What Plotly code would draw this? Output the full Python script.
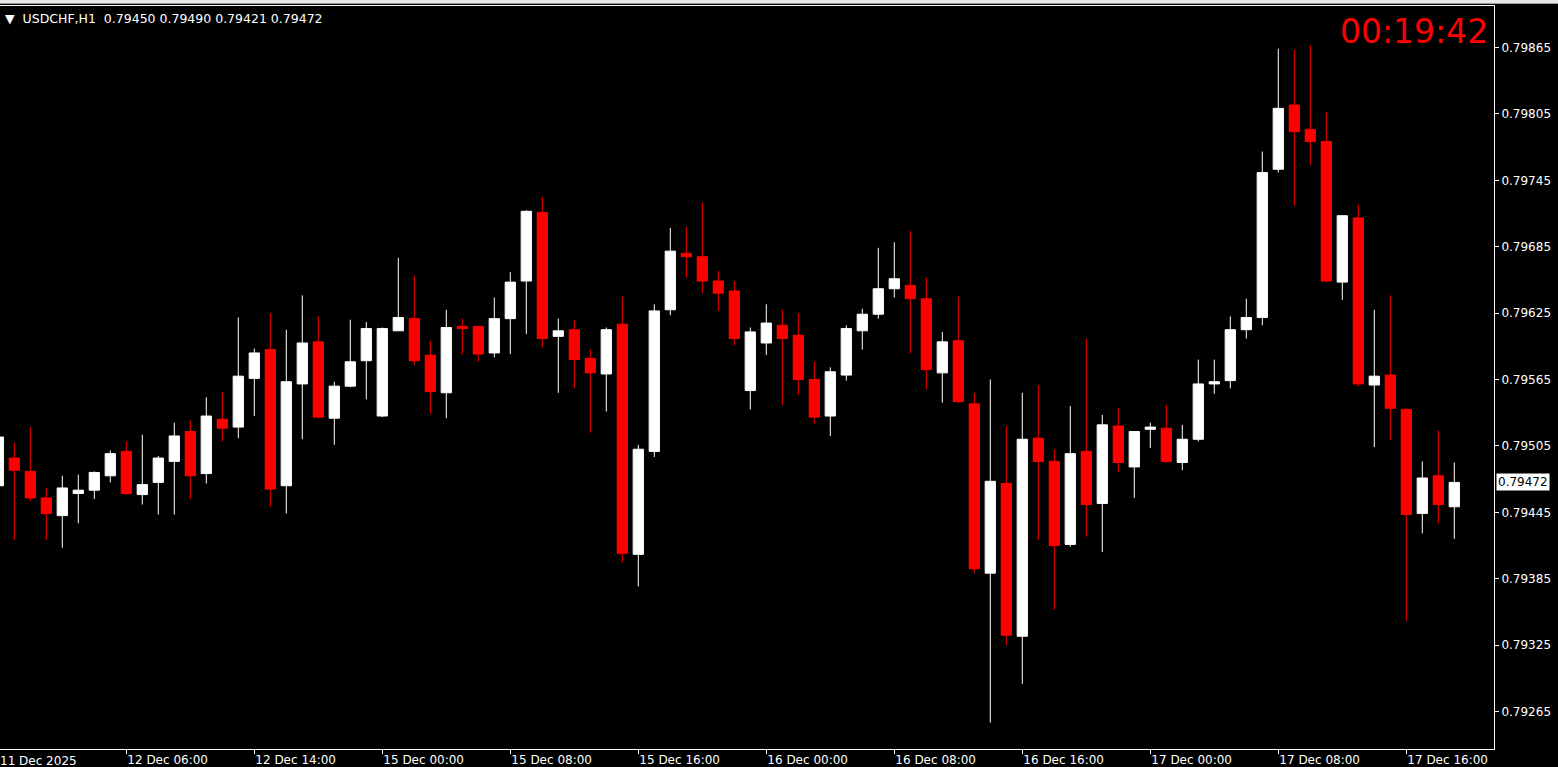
import plotly.graph_objects as go

# ---- data (USDCHF H1) ----
opens = [0.79469, 0.79494, 0.79482, 0.79458, 0.79442, 0.79462, 0.79465, 0.79478, 0.79500, 0.79461,
         0.79472, 0.79491, 0.79518, 0.79480, 0.79529, 0.79522, 0.79566, 0.79592, 0.79469, 0.79561,
         0.79599, 0.79530, 0.79559, 0.79582, 0.79532, 0.79609, 0.79620, 0.79587, 0.79553, 0.79613,
         0.79613, 0.79589, 0.79620, 0.79654, 0.79716, 0.79604, 0.79610, 0.79584, 0.79570, 0.79615,
         0.79407, 0.79500, 0.79628, 0.79679, 0.79676, 0.79654, 0.79645, 0.79555, 0.79598, 0.79614,
         0.79605, 0.79565, 0.79532, 0.79569, 0.79609, 0.79624, 0.79647, 0.79650, 0.79638, 0.79571,
         0.79600, 0.79543, 0.79390, 0.79471, 0.79333, 0.79512, 0.79491, 0.79416, 0.79500, 0.79453,
         0.79523, 0.79486, 0.79520, 0.79521, 0.79490, 0.79511, 0.79561, 0.79564, 0.79610, 0.79621,
         0.79755, 0.79813, 0.79791, 0.79780, 0.79653, 0.79711, 0.79560, 0.79569, 0.79538, 0.79444,
         0.79478, 0.79450]
highs = [0.79519, 0.79508, 0.79522, 0.79467, 0.79478, 0.79479, 0.79482, 0.79501, 0.79509, 0.79515,
         0.79496, 0.79526, 0.79528, 0.79549, 0.79554, 0.79621, 0.79593, 0.79625, 0.79610, 0.79641,
         0.79622, 0.79563, 0.79619, 0.79617, 0.79612, 0.79675, 0.79659, 0.79600, 0.79628, 0.79620,
         0.79613, 0.79639, 0.79662, 0.79718, 0.79730, 0.79620, 0.79619, 0.79592, 0.79612, 0.79640,
         0.79506, 0.79633, 0.79702, 0.79703, 0.79725, 0.79663, 0.79654, 0.79612, 0.79633, 0.79628,
         0.79625, 0.79581, 0.79576, 0.79614, 0.79629, 0.79684, 0.79689, 0.79699, 0.79657, 0.79608,
         0.79640, 0.79553, 0.79565, 0.79523, 0.79553, 0.79560, 0.79502, 0.79541, 0.79602, 0.79533,
         0.79539, 0.79518, 0.79526, 0.79542, 0.79524, 0.79583, 0.79583, 0.79622, 0.79638, 0.79771,
         0.79864, 0.79863, 0.79867, 0.79807, 0.79713, 0.79723, 0.79628, 0.79641, 0.79539, 0.79491,
         0.79519, 0.79490]
lows = [0.79463, 0.79420, 0.79455, 0.79420, 0.79413, 0.79435, 0.79457, 0.79472, 0.79461, 0.79452,
        0.79443, 0.79443, 0.79457, 0.79471, 0.79509, 0.79512, 0.79532, 0.79450, 0.79444, 0.79511,
        0.79530, 0.79506, 0.79558, 0.79547, 0.79531, 0.79609, 0.79578, 0.79534, 0.79530, 0.79588,
        0.79581, 0.79585, 0.79588, 0.79606, 0.79594, 0.79553, 0.79557, 0.79517, 0.79536, 0.79400,
        0.79378, 0.79495, 0.79623, 0.79657, 0.79643, 0.79627, 0.79596, 0.79538, 0.79587, 0.79542,
        0.79551, 0.79525, 0.79514, 0.79564, 0.79592, 0.79620, 0.79639, 0.79589, 0.79556, 0.79544,
        0.79544, 0.79390, 0.79255, 0.79325, 0.79290, 0.79420, 0.79357, 0.79414, 0.79423, 0.79409,
        0.79481, 0.79458, 0.79503, 0.79490, 0.79483, 0.79509, 0.79552, 0.79557, 0.79602, 0.79614,
        0.79752, 0.79722, 0.79759, 0.79653, 0.79637, 0.79559, 0.79504, 0.79510, 0.79347, 0.79426,
        0.79435, 0.79421]
closes = [0.79513, 0.79483, 0.79458, 0.79444, 0.79467, 0.79465, 0.79481, 0.79498, 0.79462, 0.79470,
          0.79494, 0.79514, 0.79478, 0.79532, 0.79521, 0.79568, 0.79589, 0.79466, 0.79563, 0.79598,
          0.79531, 0.79559, 0.79581, 0.79611, 0.79611, 0.79621, 0.79582, 0.79554, 0.79612, 0.79611,
          0.79588, 0.79620, 0.79653, 0.79717, 0.79602, 0.79609, 0.79583, 0.79571, 0.79610, 0.79408,
          0.79502, 0.79627, 0.79681, 0.79676, 0.79654, 0.79643, 0.79602, 0.79608, 0.79616, 0.79602,
          0.79565, 0.79531, 0.79572, 0.79611, 0.79624, 0.79647, 0.79656, 0.79638, 0.79574, 0.79599,
          0.79545, 0.79394, 0.79473, 0.79334, 0.79511, 0.79491, 0.79415, 0.79498, 0.79452, 0.79524,
          0.79490, 0.79518, 0.79522, 0.79491, 0.79511, 0.79561, 0.79563, 0.79610, 0.79621, 0.79752,
          0.79810, 0.79789, 0.79780, 0.79654, 0.79713, 0.79561, 0.79568, 0.79539, 0.79443, 0.79476,
          0.79452, 0.79472]

bar_index = list(range(len(opens)))
time_tick_index = [0, 8, 16, 24, 32, 40, 48, 56, 64, 72, 80, 88]
time_tick_labels = ["11 Dec 2025", "12 Dec 06:00", "12 Dec 14:00", "15 Dec 00:00", "15 Dec 08:00",
                    "15 Dec 16:00", "16 Dec 00:00", "16 Dec 08:00", "16 Dec 16:00", "17 Dec 00:00",
                    "17 Dec 08:00", "17 Dec 16:00"]
price_ticks = [0.79265, 0.79325, 0.79385, 0.79445, 0.79505, 0.79565, 0.79625, 0.79685, 0.79745, 0.79805, 0.79865]
symbol = "USDCHF,H1"
timer_text = "00:19:42"

FONT = "DejaVu Sans"
W, H = 1558, 767
ML, MR, MT, MB = 0, 64, 6, 18
PW, PH = W - ML - MR, H - MT - MB
BAR_PX = 16.0      # pixel pitch of one bar
BAR0_PX = -1.7     # pixel centre of bar 0

fig = go.Figure()
fig.add_trace(go.Candlestick(
    x=bar_index, open=opens, high=highs, low=lows, close=closes,
    increasing=dict(line=dict(color="#ffffff", width=1), fillcolor="#ffffff"),
    decreasing=dict(line=dict(color="#ff0000", width=1), fillcolor="#ff0000"),
    whiskerwidth=0, showlegend=False, hoverinfo="x+y",
))

x0 = (0 - BAR0_PX) / BAR_PX
x1 = (PW - BAR0_PX) / BAR_PX
ytop = 0.79865 + (47.5 - MT) * 0.0006 / 66.4
ybot = 0.79865 - (MT + PH - 47.5) * 0.0006 / 66.4

in_range = [(i, t) for i, t in zip(time_tick_index, time_tick_labels) if i >= x0]
out_range = [(i, t) for i, t in zip(time_tick_index, time_tick_labels) if i < x0]

fig.update_layout(
    width=W, height=H,
    margin=dict(l=ML, r=MR, t=MT, b=MB, pad=0, autoexpand=False),
    paper_bgcolor="#000000", plot_bgcolor="#000000",
    boxgap=0.36, boxgroupgap=0,
    font=dict(family=FONT, size=12, color="#ffffff"),
    xaxis=dict(
        range=[x0, x1], rangeslider=dict(visible=False),
        showgrid=False, zeroline=False,
        showline=True, linecolor="#ffffff", linewidth=1, mirror=True,
        ticks="outside", ticklen=4, tickcolor="#ffffff", tickwidth=1,
        tickmode="array", tickvals=[i for i, _ in in_range], ticktext=[t for _, t in in_range],
        ticklabelposition="outside right",
        tickfont=dict(family=FONT, size=12, color="#ffffff"),
        fixedrange=True, automargin=False,
    ),
    yaxis=dict(
        range=[ybot, ytop], side="right",
        showgrid=False, zeroline=False,
        showline=True, linecolor="#ffffff", linewidth=1,
        ticks="outside", ticklen=4, tickcolor="#ffffff", tickwidth=1,
        tickmode="array", tickvals=price_ticks, ticktext=[f"{v:.5f}" for v in price_ticks],
        tickfont=dict(family=FONT, size=12, color="#ffffff"),
        fixedrange=True, automargin=False,
    ),
)

# time label whose bar lies just left of the plot edge
for i, t in out_range:
    fig.add_annotation(x=(BAR0_PX + BAR_PX * i) / PW, xref="paper", y=-(761 - (MT + PH)) / PH, yref="paper",
                       text=t, showarrow=False, xanchor="left", yanchor="middle",
                       font=dict(family=FONT, size=12, color="#ffffff"))

# header
header = "\u25BC\u00a0\u00a0" + symbol + "\u00a0\u00a0" + "\u00a0".join(
    f"{v:.5f}" for v in (opens[-1], highs[-1], lows[-1], closes[-1]))
fig.add_annotation(x=3 / PW, xref="paper", y=1 - (18 - MT) / PH, yref="paper",
                   text=header, showarrow=False, xanchor="left", yanchor="middle",
                   font=dict(family=FONT, size=12.5, color="#ffffff"))

# countdown timer
fig.add_annotation(x=1490 / PW, xref="paper", y=1 - (31 - MT) / PH, yref="paper",
                   text=timer_text, showarrow=False, xanchor="right", yanchor="middle",
                   font=dict(family=FONT, size=33, color="#ff0000"))

# current price label
fig.add_annotation(x=1, xref="paper", xshift=2, y=closes[-1], yref="y",
                   text=f"{closes[-1]:.5f}", showarrow=False, xanchor="left", yanchor="middle",
                   bgcolor="#ffffff", borderpad=1,
                   font=dict(family=FONT, size=12, color="#000000"))

# window chrome strip at top
fig.add_shape(type="rect", xref="paper", yref="paper", x0=0, x1=W / PW,
              y0=1 + (MT - 3) / PH, y1=1 + MT / PH, fillcolor="#e6e6e6", line=dict(width=0), layer="above")
fig.add_shape(type="rect", xref="paper", yref="paper", x0=0, x1=W / PW,
              y0=1 + (MT - 4) / PH, y1=1 + (MT - 3) / PH, fillcolor="#9a9a9a", line=dict(width=0), layer="above")

fig.write_html("out.html",
               config={"displayModeBar": False},
               post_script="document.body.style.margin='0px';document.body.style.overflow='hidden';"
                           "document.body.style.background='#000';")
